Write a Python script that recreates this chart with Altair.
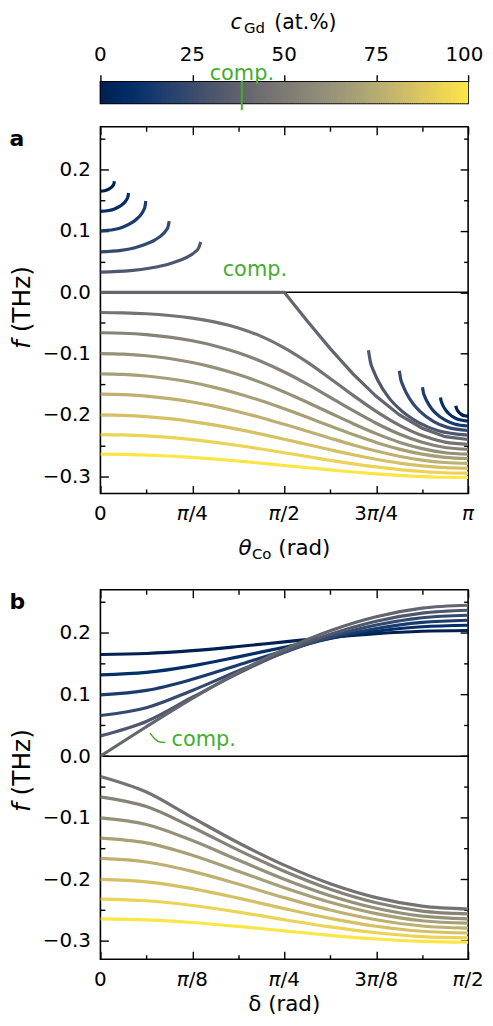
import altair as alt
import pandas as pd

# ---------------- data ----------------
C_GD = [0.0, 7.69, 15.38, 23.08, 30.77, 38.46, 46.15, 53.85, 61.54, 69.23, 76.92, 84.62, 92.31, 100.0]
C_COMP = 38.46

# panel a : x = theta_Co / pi
A_GRID = [0, 0.0625, 0.125, 0.1875, 0.25, 0.3125, 0.375, 0.4375, 0.5,
          0.5625, 0.625, 0.6875, 0.75, 0.8125, 0.875, 0.9375, 1.0]
A_COMP = [0, 0, 0, 0, 0, 0, 0, 0, 0, -0.0468, -0.0918, -0.1333, -0.1697, -0.1996, -0.2217, -0.2354, -0.2400]
A_NEG = [
    [-0.0330, -0.0335, -0.0350, -0.0378, -0.0422, -0.0487, -0.0582, -0.0719, -0.0905, -0.1138, -0.1405, -0.1681, -0.1942, -0.2166, -0.2337, -0.2444, -0.2480],
    [-0.0660, -0.0668, -0.0691, -0.0731, -0.0791, -0.0875, -0.0986, -0.1128, -0.1300, -0.1498, -0.1713, -0.1931, -0.2135, -0.2311, -0.2446, -0.2531, -0.2560],
    [-0.1000, -0.1009, -0.1035, -0.1080, -0.1145, -0.1232, -0.1341, -0.1473, -0.1625, -0.1793, -0.1969, -0.2143, -0.2305, -0.2444, -0.2550, -0.2617, -0.2640],
    [-0.1330, -0.1339, -0.1365, -0.1410, -0.1472, -0.1554, -0.1653, -0.1769, -0.1899, -0.2038, -0.2181, -0.2320, -0.2448, -0.2557, -0.2640, -0.2692, -0.2710],
    [-0.1660, -0.1668, -0.1693, -0.1733, -0.1789, -0.1861, -0.1947, -0.2045, -0.2152, -0.2265, -0.2379, -0.2489, -0.2588, -0.2673, -0.2737, -0.2776, -0.2790],
    [-0.2000, -0.2007, -0.2027, -0.2061, -0.2108, -0.2166, -0.2235, -0.2313, -0.2396, -0.2482, -0.2568, -0.2650, -0.2723, -0.2785, -0.2831, -0.2860, -0.2870],
    [-0.2320, -0.2325, -0.2341, -0.2367, -0.2403, -0.2447, -0.2498, -0.2555, -0.2616, -0.2678, -0.2740, -0.2797, -0.2848, -0.2891, -0.2923, -0.2943, -0.2950],
    [-0.2640, -0.2643, -0.2654, -0.2670, -0.2693, -0.2720, -0.2752, -0.2787, -0.2824, -0.2861, -0.2897, -0.2931, -0.2961, -0.2986, -0.3005, -0.3016, -0.3020],
]
A_POS_X = [
    [0, 0.0114, 0.0190, 0.0265, 0.0303, 0.0341, 0.0360, 0.0371, 0.0379],
    [0, 0.0229, 0.0382, 0.0535, 0.0611, 0.0688, 0.0726, 0.0749, 0.0764],
    [0, 0.0371, 0.0618, 0.0865, 0.0988, 0.1112, 0.1173, 0.1210, 0.1235],
    [0, 0.0562, 0.0936, 0.1310, 0.1498, 0.1685, 0.1778, 0.1835, 0.1872],
    [0, 0.0818, 0.1364, 0.1910, 0.2182, 0.2455, 0.2592, 0.2673, 0.2728],
]
A_POS_F = [
    [0.165, 0.1657, 0.1671, 0.1696, 0.1714, 0.1740, 0.1760, 0.1778, 0.181],
    [0.132, 0.1334, 0.1360, 0.1406, 0.1440, 0.1489, 0.1526, 0.1560, 0.162],
    [0.100, 0.1023, 0.1066, 0.1140, 0.1196, 0.1276, 0.1337, 0.1393, 0.149],
    [0.066, 0.0683, 0.0727, 0.0803, 0.0860, 0.0942, 0.1004, 0.1061, 0.116],
    [0.033, 0.0353, 0.0396, 0.0470, 0.0526, 0.0606, 0.0667, 0.0723, 0.082],
]
A_ARC_X = [
    [0.9666, 0.9673, 0.9683, 0.9699, 0.9733, 0.9766, 0.9833, 0.9900, 1.0],
    [0.925, 0.9265, 0.9288, 0.9325, 0.9400, 0.9475, 0.9625, 0.9775, 1.0],
    [0.876, 0.8785, 0.8822, 0.8884, 0.9008, 0.9132, 0.9380, 0.9628, 1.0],
    [0.813, 0.8167, 0.8224, 0.8317, 0.8504, 0.8691, 0.9065, 0.9439, 1.0],
    [0.729, 0.7344, 0.7426, 0.7561, 0.7832, 0.8103, 0.8645, 0.9187, 1.0],
]
A_ARC_F = [
    [-0.185, -0.1874, -0.1892, -0.1914, -0.1945, -0.1968, -0.1997, -0.2014, -0.2023],
    [-0.1715, -0.1769, -0.1807, -0.1857, -0.1928, -0.1977, -0.2042, -0.2080, -0.2100],
    [-0.155, -0.1638, -0.1701, -0.1782, -0.1898, -0.1978, -0.2086, -0.2147, -0.2180],
    [-0.128, -0.1416, -0.1514, -0.1638, -0.1818, -0.1942, -0.2108, -0.2203, -0.2254],
    [-0.0944, -0.1138, -0.1277, -0.1454, -0.1709, -0.1886, -0.2122, -0.2258, -0.2330],
]

# panel b : x = delta / pi
B_GRID = [0, 0.0625, 0.125, 0.1875, 0.25, 0.3125, 0.375, 0.4375, 0.5]
B_POS = [
    [0.1650, 0.1667, 0.1713, 0.1780, 0.1855, 0.1928, 0.1988, 0.2027, 0.2040],
    [0.1320, 0.1359, 0.1466, 0.1612, 0.1769, 0.1913, 0.2027, 0.2100, 0.2125],
    [0.0995, 0.1067, 0.1248, 0.1479, 0.1711, 0.1916, 0.2073, 0.2172, 0.2206],
    [0.0660, 0.0786, 0.1067, 0.1384, 0.1683, 0.1937, 0.2128, 0.2247, 0.2287],
    [0.0330, 0.0564, 0.0956, 0.1344, 0.1691, 0.1977, 0.2191, 0.2323, 0.2368],
    [0.0000, 0.0478, 0.0938, 0.1361, 0.1732, 0.2037, 0.2264, 0.2403, 0.2450],
]
B_NEG = [
    [-0.0330, -0.0582, -0.0997, -0.1405, -0.1769, -0.2070, -0.2295, -0.2433, -0.2480],
    [-0.0660, -0.0818, -0.1154, -0.1525, -0.1869, -0.2160, -0.2379, -0.2514, -0.2560],
    [-0.1000, -0.1108, -0.1369, -0.1686, -0.1996, -0.2264, -0.2469, -0.2597, -0.2640],
    [-0.1330, -0.1408, -0.1608, -0.1868, -0.2135, -0.2371, -0.2555, -0.2671, -0.2710],
    [-0.1660, -0.1717, -0.1869, -0.2076, -0.2296, -0.2496, -0.2655, -0.2756, -0.2790],
    [-0.2000, -0.2040, -0.2150, -0.2304, -0.2474, -0.2632, -0.2760, -0.2842, -0.2870],
    [-0.2320, -0.2347, -0.2423, -0.2531, -0.2654, -0.2771, -0.2866, -0.2929, -0.2950],
    [-0.2640, -0.2656, -0.2699, -0.2763, -0.2836, -0.2908, -0.2967, -0.3006, -0.3020],
]

# tick labels: pieces of (text, italic?) per major tick
A_X_TICKS = [0, 0.25, 0.5, 0.75, 1.0]
A_X_MINOR = [0.125, 0.375, 0.625, 0.875]
A_X_LABELS = [[("0", False)], [("π", True), ("/4", False)], [("π", True), ("/2", False)],
              [("3", False), ("π", True), ("/4", False)], [("π", True)]]
B_X_TICKS = [0, 0.125, 0.25, 0.375, 0.5]
B_X_MINOR = [0.0625, 0.1875, 0.3125, 0.4375]
B_X_LABELS = [[("0", False)], [("π", True), ("/8", False)], [("π", True), ("/4", False)],
              [("3", False), ("π", True), ("/8", False)], [("π", True), ("/2", False)]]
Y_TICKS = [-0.3, -0.2, -0.1, 0.0, 0.1, 0.2]
Y_MINOR = [-0.25, -0.15, -0.05, 0.05, 0.15, 0.25]
CB_TICKS = [0, 25, 50, 75, 100]
CB_LABELS = ["0", "25", "50", "75", "100"]
CB_LABEL_NUDGE_PX = [0, 0, 0, 0, -3.8]   # keep the last label inside the page

# ---------------- build tables ----------------
rows = []


def add(panel, name, c, xs, fs, kind="smooth"):
    for i, (x, f) in enumerate(zip(xs, fs)):
        rows.append(dict(panel=panel, curve=name, c=c, x=x, f=f, i=i, kind=kind))


for k in range(5):
    add("a", f"pos{k}", C_GD[k], A_POS_X[k], A_POS_F[k])
    add("a", f"arc{k}", C_GD[k], A_ARC_X[k], A_ARC_F[k])
add("a", "comp", C_GD[5], A_GRID, A_COMP, "linear")
for k in range(8):
    add("a", f"neg{k}", C_GD[6 + k], A_GRID, A_NEG[k])
for k in range(6):
    add("b", f"pos{k}", C_GD[k], B_GRID, B_POS[k])
for k in range(8):
    add("b", f"neg{k}", C_GD[6 + k], B_GRID, B_NEG[k])

df = pd.DataFrame(rows).sort_values(["panel", "c", "curve", "i"])

FONT = "DejaVu Sans"
FS = 20          # tick labels
FT = 21          # annotations
FX = 21.5        # x titles
FY = 25          # y title
GREEN = "#44ad2e"
LW = 3.2
LEFT = -91.5     # left edge of the panel letters, relative to plot area
CSCALE = alt.Scale(scheme="cividis", domain=[0, 100])
W = 370
# advance widths (px at 20px DejaVu Sans) for placing label pieces
ADV = {"0": 12.72, "2": 12.72, "3": 12.72, "4": 12.72, "8": 12.72, "/": 6.74, "π": 12.04}


def piece_table(ticks, labels, span):
    out = []
    for t, pieces in zip(ticks, labels):
        total = sum(ADV[ch] for txt, _ in pieces for ch in txt)
        left = -total / 2
        for txt, it in pieces:
            out.append(dict(x=t + left * span / W, t=txt, it=it))
            left += sum(ADV[ch] for ch in txt)
    return pd.DataFrame(out)


def axis(orient, values, size, labels=False, pad=0, fmt=None):
    kw = dict(orient=orient, values=values, tickSize=alt.ExprRef(expr=str(-size)),
              tickWidth=1.4, tickColor="black", domain=False, grid=False, title=None,
              labels=labels, minExtent=0, maxExtent=0 if not labels else 200)
    if labels:
        kw.update(labelFont=FONT, labelFontSize=FS, labelColor="black", labelPadding=pad,
                  labelOverlap=False, labelFlush=False, labelBound=False)
        if fmt:
            kw["format"] = fmt
    return alt.Axis(**kw)


def ptext(txt, x, y, size=FT, style="normal", weight="normal", color="black",
          align="left", angle=0):
    return alt.Chart(pd.DataFrame({"t": [txt]})).mark_text(
        align=align, baseline="alphabetic", font=FONT, fontSize=size, fontStyle=style,
        fontWeight=weight, color=color, angle=angle
    ).encode(x=alt.value(x), y=alt.value(y), text="t:N")


def panel(p, xdom, ydom, height, xt, xm, xl, letter, xtitle_layers, comp_xy, extra=None):
    d = df[df.panel == p]
    span = xdom[1] - xdom[0]
    xs = alt.Scale(domain=xdom, nice=False, zero=False)
    ys = alt.Scale(domain=ydom, nice=False, zero=False)
    X = lambda a: alt.X("x:Q", scale=xs, axis=a)
    Y = lambda a: alt.Y("f:Q", scale=ys, axis=a)
    base = alt.Chart(d)
    rule = alt.Chart(pd.DataFrame({"f": [0.0]})).mark_rule(color="black", strokeWidth=1.5).encode(
        y=Y(None))
    smooth = base.transform_filter("datum.kind == 'smooth'").mark_line(
        strokeWidth=LW, interpolate="monotone", clip=True).encode(
        x=X(None), y=Y(None), color=alt.Color("c:Q", scale=CSCALE, legend=None),
        detail="curve:N", order="i:Q")
    lin = base.transform_filter("datum.kind == 'linear'").mark_line(
        strokeWidth=LW, interpolate="linear", clip=True).encode(
        x=X(None), y=Y(None), color=alt.Color("c:Q", scale=CSCALE, legend=None),
        detail="curve:N", order="i:Q")
    inv = base.mark_point(opacity=0, size=1)
    ax1 = inv.encode(x=X(axis("bottom", xt, 8)),
                     y=Y(axis("left", Y_TICKS, 8, True, 18, ".1f")))
    ax2 = inv.encode(x=X(axis("top", xt, 8)), y=Y(axis("right", Y_TICKS, 8)))
    ax3 = inv.encode(x=X(axis("bottom", xm, 4.5)), y=Y(axis("left", Y_MINOR, 4.5)))
    ax4 = inv.encode(x=X(axis("top", xm, 4.5)), y=Y(axis("right", Y_MINOR, 4.5)))
    pt = piece_table(xt, xl, span)
    lab_it = alt.Chart(pt[pt.it]).mark_text(
        align="left", baseline="alphabetic", font=FONT, fontSize=FS, fontStyle="italic",
        color="black").encode(x=X(None), y=alt.value(height + 27), text="t:N")
    lab_up = alt.Chart(pt[~pt.it]).mark_text(
        align="left", baseline="alphabetic", font=FONT, fontSize=FS,
        color="black").encode(x=X(None), y=alt.value(height + 27), text="t:N")
    comp = alt.Chart(pd.DataFrame({"x": [comp_xy[0]], "f": [comp_xy[1]], "t": ["comp."]})).mark_text(
        align="center", baseline="alphabetic", font=FONT, fontSize=FT, color=GREEN).encode(
        x=X(None), y=Y(None), text="t:N")
    layers = [rule, smooth, lin, comp]
    if extra is not None:
        layers.append(extra(X, Y))
    layers += [
        lab_it, lab_up,
        ptext(letter, LEFT, 19, size=22, weight="bold"),
        ptext("f", -70.5, 223.7, size=FY, style="italic", angle=270),
        ptext("(THz)", -70.5, 206.9, size=FY, angle=270),
    ] + xtitle_layers + [ax1, ax2, ax3, ax4]
    return alt.layer(*layers).resolve_axis(x="independent", y="independent").properties(
        width=W, height=height)


B_LEADER_X = [0.0676, 0.0743, 0.0811, 0.0878]
B_LEADER_F = [0.0374, 0.0277, 0.0229, 0.0221]


def leader(X, Y):
    return alt.Chart(pd.DataFrame({"x": B_LEADER_X, "f": B_LEADER_F})).mark_line(
        color=GREEN, strokeWidth=1.5, interpolate="monotone").encode(x=X(None), y=Y(None))


pa = panel("a", [0, 1], [-0.328, 0.270], 369, A_X_TICKS, A_X_MINOR, A_X_LABELS, "a",
           [ptext("θ", 139, 62 + 369, size=FX, style="italic"),
            ptext("Co", 152.5, 66 + 369, size=15),
            ptext("(rad)", 179, 62 + 369, size=FX)],
           (0.42, 0.026))
pb = panel("b", [0, 0.5], [-0.3295, 0.270], 371.7, B_X_TICKS, B_X_MINOR, B_X_LABELS, "b",
           [ptext("δ (rad)", 185, 52.5 + 371.7, size=FX, align="center")],
           (0.1405, 0.016), extra=leader)

# colorbar
CB_H = 22
cbx = alt.Scale(domain=[0, 100], nice=False, zero=False)
cb_rect = alt.Chart(alt.sequence(0, 100, 0.5, as_="c")).transform_calculate(
    c2="datum.c + 0.8").mark_rect(clip=True, opacity=1, strokeWidth=0).encode(
    x=alt.X("c:Q", scale=cbx, axis=alt.Axis(orient="top", values=CB_TICKS, tickSize=7, tickWidth=1.4,
                                            tickColor="black", domain=False, grid=False, title=None,
                                            labels=False, minExtent=0, maxExtent=7)),
    x2="c2:Q",
    color=alt.Color("c:Q", scale=CSCALE, legend=None))
cb_lab_df = pd.DataFrame({"c": [v + dx * 100 / W for v, dx in zip(CB_TICKS, CB_LABEL_NUDGE_PX)],
                          "t": CB_LABELS})
cb_labels = alt.Chart(cb_lab_df).mark_text(
    align="center", baseline="alphabetic", font=FONT, fontSize=FS, color="black").encode(
    x=alt.X("c:Q", scale=cbx, axis=None), y=alt.value(-21.2), text="t:N")
cb_line = alt.Chart(pd.DataFrame({"c": [C_COMP]})).mark_rule(color=GREEN, strokeWidth=2).encode(
    x=alt.X("c:Q", scale=cbx, axis=None), y=alt.value(-1), y2=alt.value(CB_H + 6.5))
cb_comp = alt.Chart(pd.DataFrame({"c": [C_COMP], "t": ["comp."]})).mark_text(
    align="center", baseline="alphabetic", font=FONT, fontSize=FT, color=GREEN).encode(
    x=alt.X("c:Q", scale=cbx, axis=None), y=alt.value(-1.5), text="t:N")
anchor = alt.Chart(pd.DataFrame({"t": [""]})).mark_rule(opacity=0).encode(
    x=alt.value(LEFT), x2=alt.value(0), y=alt.value(-70))
cb = alt.layer(
    anchor, cb_rect, cb_line, cb_comp, cb_labels,
    ptext("c", 131, -52.8, size=21, style="italic"), ptext("Gd", 144.5, -49.5, size=15),
    ptext("(at.%)", 175, -52.8, size=20.5),
).resolve_axis(x="independent").properties(width=W, height=CB_H)

inner = alt.vconcat(pa, pb, spacing=97, bounds="flush")
chart = alt.vconcat(cb, inner, spacing=23.3, bounds="flush").properties(
    padding={"left": 0, "top": 0, "right": 0, "bottom": -1.5}
).configure(background="white").configure_view(stroke="black", strokeWidth=1.6)

chart.save("out.html", embed_options={"renderer": "svg", "actions": False})
